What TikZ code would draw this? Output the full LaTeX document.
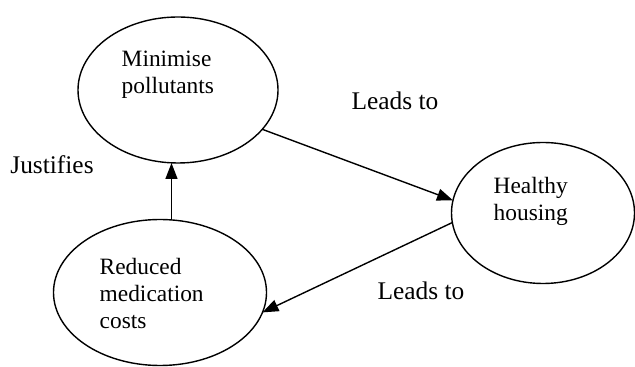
\documentclass[tikz,border=0pt]{standalone}
\usepackage{fontspec}
\setmainfont{Liberation Serif}
\usetikzlibrary{shapes.geometric,arrows.meta}

\begin{document}
\begin{tikzpicture}[x=0.5pt, y=-0.5pt, line width=0.7pt,
    >={Triangle[length=8pt,width=6pt]},
    every node/.style={font=\fontsize{11.7}{13.5}\selectfont},
    bubble/.style={draw, ellipse, inner sep=0pt, outer sep=0pt},
    bubbletext/.style={anchor=west, align=left, inner sep=0pt},
    linktext/.style={font=\fontsize{12.7}{15}\selectfont}]
    \useasboundingbox (0,0) rectangle (635,367);
    % Minimise pollutants
    \node[bubble, minimum width=100pt, minimum height=73pt] (min) at (178,90) {};
    \node[bubbletext] (mintext) at (121,75) {Minimise\\pollutants};
    % Healthy housing
    \node[bubble, minimum width=91.5pt, minimum height=70.5pt] (house) at (543,213) {};
    \node[bubbletext] (housetext) at (493,201) {Healthy\\housing};
    % Reduced medication costs
    \node[bubble, minimum width=106.5pt, minimum height=73pt] (med) at (160,292.5) {};
    \node[bubbletext] (medtext) at (99,293) {Reduced\\medication\\costs};
    % links between them
    \draw[->] (min.-25) -- (house.172);
    \draw[->] (house.186) -- (med.-11);
    \draw[->] (med.81) -- (med.81 |- min.south);
    % link texts
    \node[linktext] (lead1) at (395,101) {Leads to};
    \node[linktext] (lead2) at (421,291) {Leads to};
    \node[linktext] (just) at (52,165) {Justifies};
\end{tikzpicture}
\end{document}
